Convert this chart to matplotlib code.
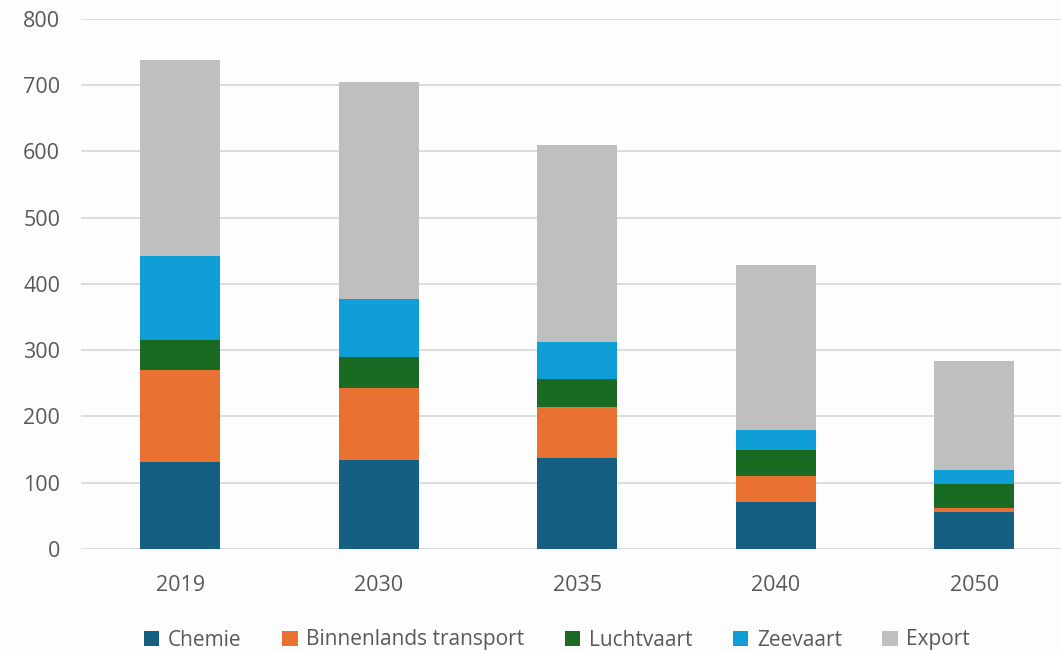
import matplotlib
matplotlib.use("Agg")
import matplotlib.pyplot as plt
import numpy as np

jaren = ['2019', '2030', '2035', '2040', '2050']
chemie = [131, 134, 138, 71, 56]
binnenlands = [139, 109, 76, 39, 6]
luchtvaart = [45, 46, 42, 40, 36]
zeevaart = [127, 88, 57, 30, 21]
export = [296, 327, 297, 248, 164]

series = [
    ('Chemie', chemie, '#156082'),
    ('Binnenlands transport', binnenlands, '#E97132'),
    ('Luchtvaart', luchtvaart, '#196B24'),
    ('Zeevaart', zeevaart, '#0F9ED5'),
    ('Export', export, '#BFBFBF'),
]

plt.rcParams['font.family'] = ['Open Sans', 'DejaVu Sans']

fig = plt.figure(figsize=(10.61, 6.53), dpi=100)
fig.patch.set_facecolor('#FDFDFD')
ax = fig.add_axes([81 / 1061, 104 / 653, 980 / 1061, 530.3 / 653])
ax.set_facecolor('#FDFDFD')

x = np.arange(len(jaren))
bottom = np.zeros(len(jaren))
for naam, waarden, kleur in series:
    ax.bar(x, waarden, width=0.403, bottom=bottom, color=kleur, label=naam, zorder=3)
    bottom += np.array(waarden)

ax.set_xlim(-0.5, -0.5 + 980 / 198.5)
ax.set_ylim(0, 800)
ax.set_yticks(range(0, 801, 100))
ax.set_xticks(x)
ax.set_xticklabels(jaren)
ax.grid(axis='y', color='#D9D9D9', linewidth=1.3, zorder=0)
for s in ax.spines.values():
    s.set_visible(False)
ax.tick_params(length=0, labelsize=15.5, colors='#595959')
ax.tick_params(axis='y', pad=15)
ax.tick_params(axis='x', pad=19)

fig.legend(loc='center', bbox_to_anchor=(557 / 1061, 1 - 640 / 653), ncol=5,
           frameon=False, fontsize=15, labelcolor='#595959',
           handlelength=0.75, handleheight=0.75, handletextpad=0.4, columnspacing=1.95)

fig.savefig('out.png', dpi=100, facecolor=fig.get_facecolor())
